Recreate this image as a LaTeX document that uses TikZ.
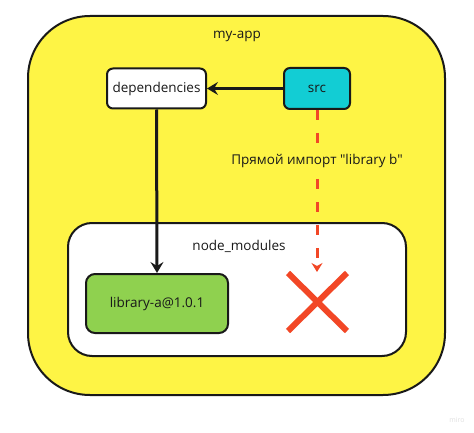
\documentclass[tikz,border=0pt]{standalone}
\usepackage{fontspec}
\setmainfont{Open Sans}[Ligatures=TeXOff]
\usetikzlibrary{arrows.meta}
\definecolor{myyellow}{HTML}{FEF445}
\definecolor{mycyan}{HTML}{12CDD4}
\definecolor{mygreen}{HTML}{8FD14F}
\definecolor{myred}{HTML}{F24726}
\begin{document}
\begin{tikzpicture}[x=1pt,y=-1pt,
  lbl/.style={font=\fontsize{13.5}{16}\selectfont, text=black!90},
  box/.style={lbl, draw=black!90, line width=2pt, rounded corners=6pt},
  conn/.style={line width=3pt, draw=black!90, -{Stealth[length=11pt,width=13pt,inset=4pt]}},
  redconn/.style={line width=3pt, draw=myred, dash pattern=on 10pt off 13pt, -{Stealth[length=9pt,width=11pt,inset=3pt]}}]
\useasboundingbox (0,0) rectangle (474,433);
\fill[white] (0,0) rectangle (474,433);
% outer container
\draw[fill=myyellow, line width=2pt, draw=black!90, rounded corners=62pt] (28,16) rectangle (445,395);
\node[lbl] (myapp) at (237,36) {my-app};
% node_modules container
\draw[fill=white, line width=2pt, draw=black!90, rounded corners=24pt] (68,223) rectangle (406,356);
\node[lbl] (nm) at (239,246) {node\_modules};
% boxes
\node[box, fill=white, minimum width=99pt, minimum height=40pt] (deps) at (156.5,88.5) {dependencies};
\node[box, fill=mycyan, minimum width=66pt, minimum height=41pt] (src) at (317,88.5) {src};
\node[box, fill=mygreen, minimum width=142pt, minimum height=59pt, rounded corners=9pt] (liba) at (157,303.5) {library-a@1.0.1};
% red cross
\draw[myred, line width=6pt] (288,273) -- (347,331) (347,273) -- (288,331);
\coordinate (xtop) at (317,272);
% connectors
\draw[conn] (src.west) -- (deps.east);
\draw[conn] (deps.south) -- (liba.north);
\draw[redconn] (src.south) -- (xtop);
\node[lbl, fill=myyellow, inner sep=2pt] (note) at (317,161) {Прямой импорт "library b"};
\node[text=black!12, font=\fontsize{7}{8}\selectfont] (miro) at (457,420) {miro};
\end{tikzpicture}
\end{document}
